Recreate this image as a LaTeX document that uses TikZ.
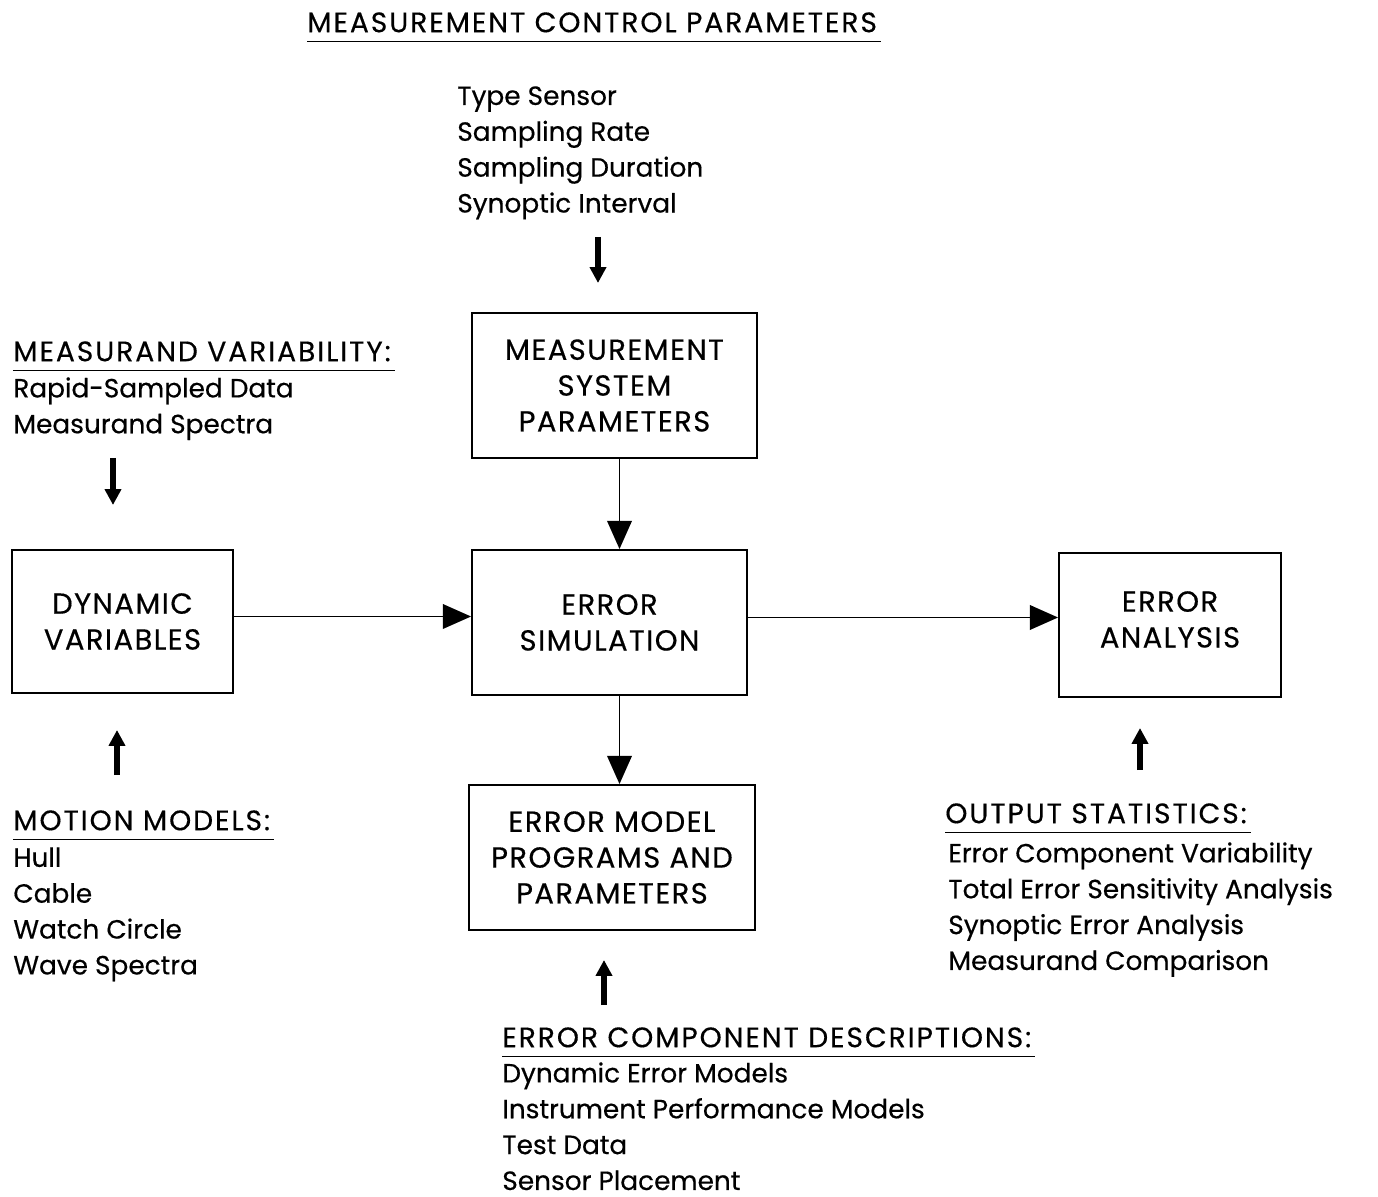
\documentclass[tikz,border=0pt]{standalone}
\usepackage{fontspec}
\setmainfont{Poppins}[FakeBold=0.4]
\newfontfamily\capsfont{Poppins}[FakeBold=0.4,LetterSpace=5]
\newfontfamily\headfont{Poppins}[FakeBold=0.4,LetterSpace=7]
\usetikzlibrary{arrows.meta}

\begin{document}
\begin{tikzpicture}[
  box/.style={draw, line width=1.1pt, inner sep=0pt, align=center,
              font=\capsfont\fontsize{16.5}{20.4}\selectfont},
  txt/.style={inner sep=0pt, anchor=north west, align=left,
              font=\fontsize{15}{20.4}\selectfont},
  hd/.style={txt, font=\headfont\fontsize{16}{20.4}\selectfont},
  arr/.style={-{Triangle[length=16pt,width=14pt]}, line width=0.9pt},
  fat/.style={-{Triangle[length=9pt,width=9pt]}, line width=3.2pt}
]
  \useasboundingbox (0,0) rectangle (27.56,-23.94);

  % boxes
  \node[box, minimum width=5.7cm,  minimum height=2.9cm]  (msp) at (12.29,-7.71)  {MEASUREMENT\\SYSTEM\\PARAMETERS};
  \node[box, minimum width=5.5cm,  minimum height=2.9cm]  (es)  at (12.19,-12.45) {ERROR\\SIMULATION};
  \node[box, minimum width=5.72cm, minimum height=2.9cm]  (emp) at (12.24,-17.15) {ERROR MODEL\\PROGRAMS AND\\PARAMETERS};
  \node[box, minimum width=4.42cm, minimum height=2.86cm] (dv)  at (2.45,-12.43)  {DYNAMIC\\VARIABLES};
  \node[box, minimum width=4.44cm, minimum height=2.88cm] (ea)  at (23.4,-12.5)   {ERROR\\ANALYSIS\\[-14pt]};

  % headings and lists
  \node[hd]  (ctrlhd)  at (6.14,-0.24)  {MEASUREMENT CONTROL PARAMETERS};
  \node[txt] (ctrl)    at (9.14,-1.72)  {Type Sensor\\Sampling Rate\\Sampling Duration\\Synoptic Interval};
  \node[hd]  (varhd)   at (0.26,-6.82)  {MEASURAND VARIABILITY:};
  \node[txt] (var)     at (0.26,-7.54)  {Rapid-Sampled Data\\Measurand Spectra};
  \node[hd]  (mothd)   at (0.26,-16.2)  {MOTION MODELS:};
  \node[txt] (mot)     at (0.26,-16.94) {Hull\\Cable\\Watch Circle\\Wave Spectra};
  \node[hd]  (outhd)   at (18.9,-16.06) {OUTPUT STATISTICS:};
  \node[txt] (out)     at (18.96,-16.84) {Error Component Variability\\Total Error Sensitivity Analysis\\Synoptic Error Analysis\\Measurand Comparison};
  \node[hd]  (ecdhd)   at (10.04,-20.54) {ERROR COMPONENT DESCRIPTIONS:};
  \node[txt] (ecd)     at (10.04,-21.24) {Dynamic Error Models\\Instrument Performance Models\\Test Data\\Sensor Placement};

  % underlines
  \foreach \h in {ctrlhd, varhd, mothd, outhd, ecdhd}
    \draw[line width=0.9pt] ([yshift=-5pt]\h.south west) -- ([xshift=2pt,yshift=-5pt]\h.south east);

  % ends of the short arrows
  \coordinate (ctrlA) at (11.96,-4.74);  \coordinate (ctrlB) at (11.96,-5.66);
  \coordinate (varA)  at (2.26,-9.16);   \coordinate (varB)  at (2.26,-10.1);
  \coordinate (motA)  at (2.34,-15.5);   \coordinate (motB)  at (2.34,-14.6);
  \coordinate (outA)  at (22.8,-15.4);   \coordinate (outB)  at (22.8,-14.56);
  \coordinate (ecdA)  at (12.08,-20.1);  \coordinate (ecdB)  at (12.08,-19.2);

  \draw[fat] (ctrlA) -- (ctrlB);
  \draw[fat] (varA)  -- (varB);
  \draw[fat] (motA)  -- (motB);
  \draw[fat] (outA)  -- (outB);
  \draw[fat] (ecdA)  -- (ecdB);

  % flow
  \draw[arr] ([xshift=0.1cm]msp.south) -- ([xshift=0.1cm]msp.south |- es.north);
  \draw[arr] ([xshift=0.2cm]es.south)  -- ([xshift=0.2cm]es.south |- emp.north);
  \draw[arr] ([yshift=0.1cm]dv.east)   -- ([yshift=0.1cm]dv.east -| es.west);
  \draw[arr] ([yshift=0.1cm]es.east)   -- ([yshift=0.1cm]es.east -| ea.west);
\end{tikzpicture}
\end{document}
